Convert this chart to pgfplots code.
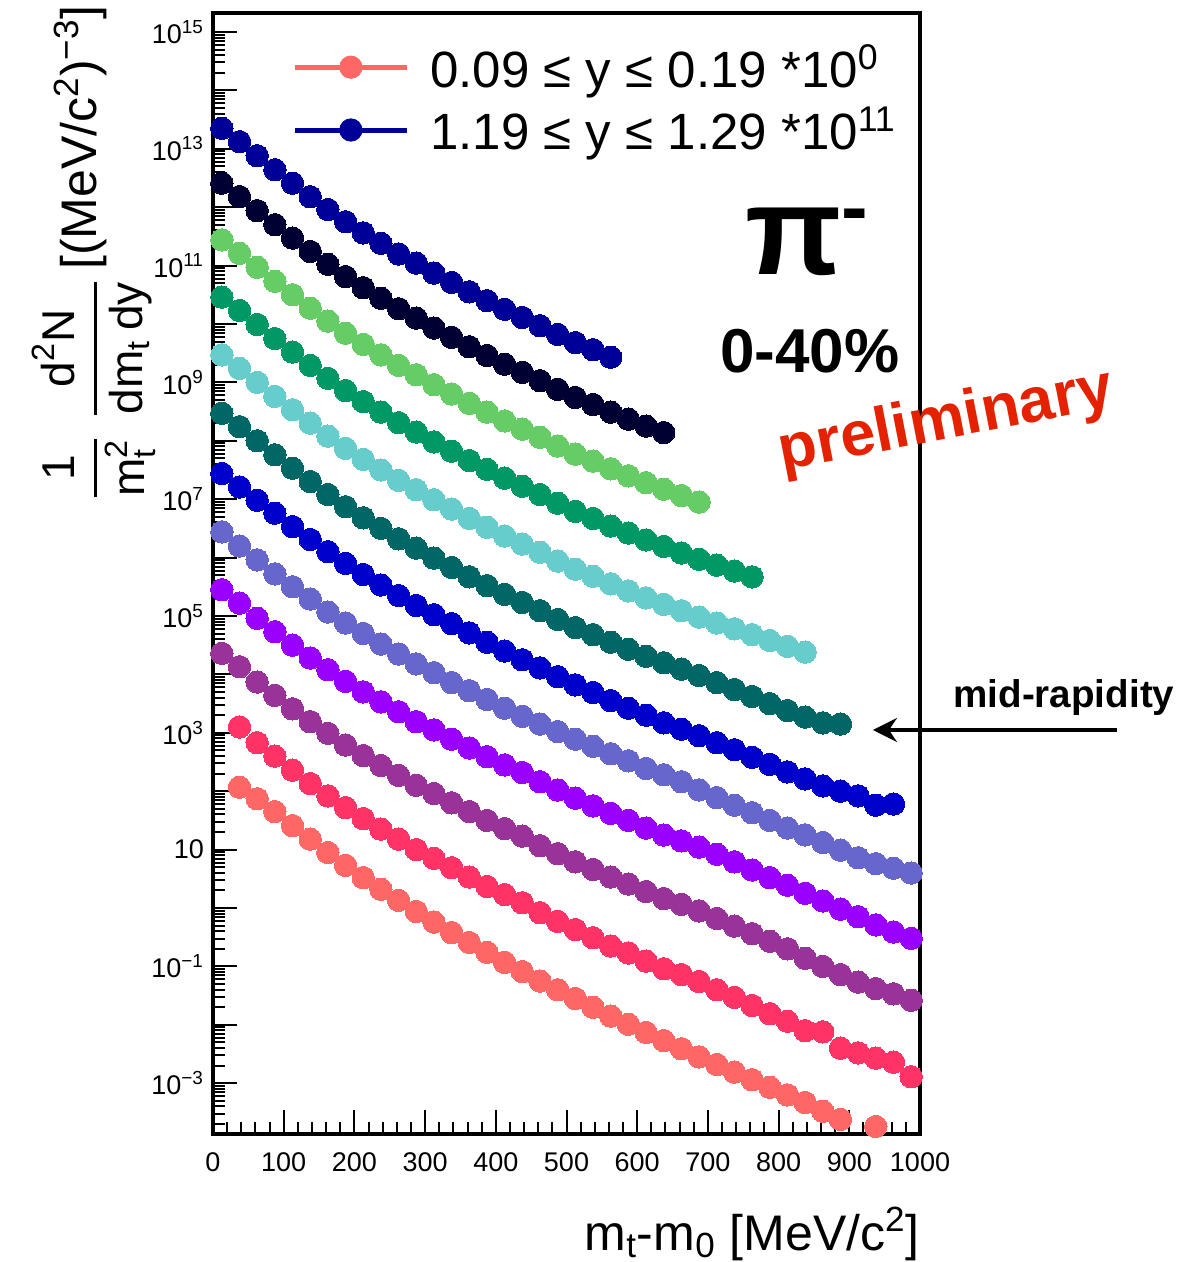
\documentclass[border=0pt]{standalone}
\usepackage{fontspec}
\setmainfont{Liberation Sans}
\usepackage{amsmath}
\usepackage{pgfplots}
\pgfplotsset{compat=1.18}
\usetikzlibrary{arrows.meta,calc}
\definecolor{c0}{HTML}{FF6666}
\definecolor{c1}{HTML}{FF3366}
\definecolor{c2}{HTML}{993399}
\definecolor{c3}{HTML}{9900FF}
\definecolor{c4}{HTML}{6666CC}
\definecolor{c5}{HTML}{0000CC}
\definecolor{c6}{HTML}{006666}
\definecolor{c7}{HTML}{66CCCC}
\definecolor{c8}{HTML}{009966}
\definecolor{c9}{HTML}{66CC66}
\definecolor{c10}{HTML}{000033}
\definecolor{c11}{HTML}{000099}
\definecolor{prelimred}{RGB}{228,34,0}
\begin{document}
\begin{tikzpicture}
\begin{axis}[
  scale only axis, width=353.5pt, height=560.5pt,
  xmin=0, xmax=1000, ymode=log, ymin=1.35e-4, ymax=2.11e15,
  axis line style={line width=2pt},
  tick style={line width=1pt, black},
  major tick length=12pt, minor tick length=6pt,
  tick pos=left,
  xtick={0,100,...,1000},
  xticklabels={0,100,200,300,400,500,600,700,800,900,1000},
  minor x tick num=4,
  ytick={1e-3,1e-2,1e-1,1,10,100,1e3,1e4,1e5,1e6,1e7,1e8,1e9,1e10,1e11,1e12,1e13,1e14,1e15},
  yticklabels={10\textsuperscript{−3},{},10\textsuperscript{−1},{},10,{},10\textsuperscript{3},{},10\textsuperscript{5},{},10\textsuperscript{7},{},10\textsuperscript{9},{},10\textsuperscript{11},{},10\textsuperscript{13},{},10\textsuperscript{15}},
  minor ytick={2e-4,3e-4,4e-4,5e-4,6e-4,7e-4,8e-4,9e-4,
    2e-3,3e-3,4e-3,5e-3,6e-3,7e-3,8e-3,9e-3,
    2e-2,3e-2,4e-2,5e-2,6e-2,7e-2,8e-2,9e-2,
    2e-1,3e-1,4e-1,5e-1,6e-1,7e-1,8e-1,9e-1,
    2,3,4,5,6,7,8,9,
    20,30,40,50,60,70,80,90,
    200,300,400,500,600,700,800,900,
    2e3,3e3,4e3,5e3,6e3,7e3,8e3,9e3,
    2e4,3e4,4e4,5e4,6e4,7e4,8e4,9e4,
    2e5,3e5,4e5,5e5,6e5,7e5,8e5,9e5,
    2e6,3e6,4e6,5e6,6e6,7e6,8e6,9e6,
    2e7,3e7,4e7,5e7,6e7,7e7,8e7,9e7,
    2e8,3e8,4e8,5e8,6e8,7e8,8e8,9e8,
    2e9,3e9,4e9,5e9,6e9,7e9,8e9,9e9,
    2e10,3e10,4e10,5e10,6e10,7e10,8e10,9e10,
    2e11,3e11,4e11,5e11,6e11,7e11,8e11,9e11,
    2e12,3e12,4e12,5e12,6e12,7e12,8e12,9e12,
    2e13,3e13,4e13,5e13,6e13,7e13,8e13,9e13,
    2e14,3e14,4e14,5e14,6e14,7e14,8e14,9e14,
    2e15},
  xticklabel style={font=\fontsize{13.5}{16}\selectfont, yshift=-6pt},
  yticklabel style={font=\fontsize{13.5}{16}\selectfont, xshift=-1pt},
  clip=false,
  legend style={draw=none, fill=none, at={(axis description cs:0.1117,0.9725)}, anchor=north west,
    font=\fontsize{25.5}{30}\selectfont, inner sep=0pt, row sep=8.5pt, column sep=10.5pt, nodes={inner sep=0pt}},
  legend cell align=left,
  pts/.style={only marks, mark=*, mark size=5.6pt, mark options={line width=0pt}},
]
\addplot[pts, color=c0, legend image code/.code={\draw[c0, line width=2.5pt] (0pt,0pt) -- (56pt,0pt); \fill[c0] (28pt,0pt) circle (5.6pt);}] coordinates {
(37.5,1.17e2)(62.5,7.41e1)(87.5,4.47e1)(112.5,2.57e1)(137.5,1.51e1)(162.5,8.91)(187.5,5.37)(212.5,3.31)(237.5,2.09)(262.5,1.35)(287.5,8.71e-1)(312.5,5.75e-1)(337.5,3.80e-1)(362.5,2.57e-1)(387.5,1.74e-1)(412.5,1.17e-1)(437.5,8.13e-2)(462.5,5.62e-2)(487.5,3.98e-2)(512.5,2.82e-2)(537.5,2.00e-2)(562.5,1.41e-2)(587.5,1.02e-2)(612.5,7.41e-3)(637.5,5.37e-3)(662.5,3.89e-3)(687.5,2.82e-3)(712.5,2.09e-3)(737.5,1.55e-3)(762.5,1.15e-3)(787.5,8.51e-4)(812.5,6.31e-4)(837.5,4.68e-4)(862.5,3.31e-4)(887.5,2.40e-4)(937.5,1.82e-4)};
\addlegendentry{0.09 ≤ y ≤ 0.19 *10\textsuperscript{0}}
\addplot[pts, color=c1, forget plot] coordinates {
(37.5,1.26e3)(62.5,6.76e2)(87.5,3.98e2)(112.5,2.29e2)(137.5,1.35e2)(162.5,8.32e1)(187.5,5.25e1)(212.5,3.39e1)(237.5,2.24e1)(262.5,1.51e1)(287.5,1.00e1)(312.5,7.08)(337.5,4.90)(362.5,3.39)(387.5,2.34)(412.5,1.70)(437.5,1.23)(462.5,8.32e-1)(487.5,5.89e-1)(512.5,4.27e-1)(537.5,3.09e-1)(562.5,2.24e-1)(587.5,1.70e-1)(612.5,1.23e-1)(637.5,9.12e-2)(662.5,7.24e-2)(687.5,5.50e-2)(712.5,3.98e-2)(737.5,2.95e-2)(762.5,2.14e-2)(787.5,1.55e-2)(812.5,1.15e-2)(837.5,7.94e-3)(862.5,7.59e-3)(887.5,3.98e-3)(912.5,3.31e-3)(937.5,2.69e-3)(962.5,2.29e-3)(987.5,1.29e-3)};
\addplot[pts, color=c2, forget plot] coordinates {
(12.5,2.29e4)(37.5,1.35e4)(62.5,7.41e3)(87.5,4.37e3)(112.5,2.57e3)(137.5,1.55e3)(162.5,9.77e2)(187.5,6.17e2)(212.5,4.07e2)(237.5,2.75e2)(262.5,1.86e2)(287.5,1.26e2)(312.5,9.12e1)(337.5,6.31e1)(362.5,4.47e1)(387.5,3.16e1)(412.5,2.29e1)(437.5,1.70e1)(462.5,1.17e1)(487.5,8.51)(512.5,6.17)(537.5,4.57)(562.5,3.39)(587.5,2.57)(612.5,1.91)(637.5,1.45)(662.5,1.15)(687.5,8.91e-1)(712.5,6.61e-1)(737.5,4.90e-1)(762.5,3.63e-1)(787.5,2.69e-1)(812.5,2.00e-1)(837.5,1.38e-1)(862.5,1.00e-1)(887.5,7.24e-2)(912.5,5.37e-2)(937.5,4.17e-2)(962.5,3.39e-2)(987.5,2.63e-2)};
\addplot[pts, color=c3, forget plot] coordinates {
(12.5,2.82e5)(37.5,1.66e5)(62.5,9.12e4)(87.5,5.37e4)(112.5,3.16e4)(137.5,1.91e4)(162.5,1.20e4)(187.5,7.59e3)(212.5,5.01e3)(237.5,3.39e3)(262.5,2.29e3)(287.5,1.55e3)(312.5,1.12e3)(337.5,7.76e2)(362.5,5.50e2)(387.5,3.89e2)(412.5,2.82e2)(437.5,2.09e2)(462.5,1.45e2)(487.5,1.05e2)(512.5,7.59e1)(537.5,5.62e1)(562.5,4.17e1)(587.5,3.16e1)(612.5,2.34e1)(637.5,1.78e1)(662.5,1.41e1)(687.5,1.10e1)(712.5,8.32)(737.5,6.17)(762.5,4.47)(787.5,3.31)(812.5,2.45)(837.5,1.78)(862.5,1.32)(887.5,9.55e-1)(912.5,7.08e-1)(937.5,5.13e-1)(962.5,3.89e-1)(987.5,3.02e-1)};
\addplot[pts, color=c4, forget plot] coordinates {
(12.5,2.75e6)(37.5,1.58e6)(62.5,9.12e5)(87.5,5.25e5)(112.5,3.16e5)(137.5,1.95e5)(162.5,1.17e5)(187.5,7.59e4)(212.5,5.01e4)(237.5,3.31e4)(262.5,2.24e4)(287.5,1.51e4)(312.5,1.07e4)(337.5,7.24e3)(362.5,5.25e3)(387.5,3.72e3)(412.5,2.63e3)(437.5,1.91e3)(462.5,1.41e3)(487.5,1.05e3)(512.5,7.76e2)(537.5,5.89e2)(562.5,4.37e2)(587.5,3.31e2)(612.5,2.45e2)(637.5,1.91e2)(662.5,1.45e2)(687.5,1.05e2)(712.5,7.76e1)(737.5,5.75e1)(762.5,4.27e1)(787.5,3.16e1)(812.5,2.34e1)(837.5,1.78e1)(862.5,1.32e1)(887.5,9.77)(912.5,7.24)(937.5,5.75)(962.5,4.79)(987.5,3.98)};
\addplot[pts, color=c5, forget plot] coordinates {
(12.5,2.75e7)(37.5,1.62e7)(62.5,9.55e6)(87.5,5.75e6)(112.5,3.39e6)(137.5,2.04e6)(162.5,1.26e6)(187.5,7.94e5)(212.5,5.13e5)(237.5,3.39e5)(262.5,2.24e5)(287.5,1.51e5)(312.5,1.05e5)(337.5,7.41e4)(362.5,5.13e4)(387.5,3.55e4)(412.5,2.51e4)(437.5,1.78e4)(462.5,1.29e4)(487.5,9.12e3)(512.5,6.61e3)(537.5,4.90e3)(562.5,3.55e3)(587.5,2.63e3)(612.5,2.00e3)(637.5,1.48e3)(662.5,1.15e3)(687.5,8.91e2)(712.5,6.76e2)(737.5,5.13e2)(762.5,3.80e2)(787.5,2.88e2)(812.5,2.14e2)(837.5,1.62e2)(862.5,1.23e2)(887.5,1.00e2)(912.5,8.32e1)(937.5,5.75e1)(962.5,6.03e1)};
\addplot[pts, color=c6, forget plot] coordinates {
(12.5,2.95e8)(37.5,1.74e8)(62.5,1.00e8)(87.5,5.75e7)(112.5,3.39e7)(137.5,2.00e7)(162.5,1.20e7)(187.5,7.41e6)(212.5,4.79e6)(237.5,3.16e6)(262.5,2.09e6)(287.5,1.45e6)(312.5,9.77e5)(337.5,6.76e5)(362.5,4.68e5)(387.5,3.31e5)(412.5,2.34e5)(437.5,1.70e5)(462.5,1.23e5)(487.5,8.71e4)(512.5,6.31e4)(537.5,4.79e4)(562.5,3.55e4)(587.5,2.69e4)(612.5,2.04e4)(637.5,1.58e4)(662.5,1.23e4)(687.5,9.55e3)(712.5,7.24e3)(737.5,5.50e3)(762.5,4.17e3)(787.5,3.16e3)(812.5,2.40e3)(837.5,1.86e3)(862.5,1.48e3)(887.5,1.41e3)};
\addplot[pts, color=c7, forget plot] coordinates {
(12.5,2.95e9)(37.5,1.74e9)(62.5,1.00e9)(87.5,5.75e8)(112.5,3.39e8)(137.5,2.00e8)(162.5,1.20e8)(187.5,7.41e7)(212.5,4.79e7)(237.5,3.16e7)(262.5,2.09e7)(287.5,1.45e7)(312.5,9.77e6)(337.5,6.76e6)(362.5,4.68e6)(387.5,3.31e6)(412.5,2.34e6)(437.5,1.70e6)(462.5,1.23e6)(487.5,8.71e5)(512.5,6.31e5)(537.5,4.79e5)(562.5,3.55e5)(587.5,2.69e5)(612.5,2.04e5)(637.5,1.58e5)(662.5,1.23e5)(687.5,9.55e4)(712.5,7.59e4)(737.5,6.03e4)(762.5,4.79e4)(787.5,3.80e4)(812.5,3.02e4)(837.5,2.40e4)};
\addplot[pts, color=c8, forget plot] coordinates {
(12.5,2.88e10)(37.5,1.70e10)(62.5,9.77e9)(87.5,5.62e9)(112.5,3.31e9)(137.5,1.95e9)(162.5,1.17e9)(187.5,7.24e8)(212.5,4.68e8)(237.5,3.09e8)(262.5,2.04e8)(287.5,1.41e8)(312.5,9.55e7)(337.5,6.61e7)(362.5,4.57e7)(387.5,3.24e7)(412.5,2.29e7)(437.5,1.66e7)(462.5,1.20e7)(487.5,8.51e6)(512.5,6.17e6)(537.5,4.68e6)(562.5,3.47e6)(587.5,2.63e6)(612.5,2.00e6)(637.5,1.55e6)(662.5,1.20e6)(687.5,9.33e5)(712.5,7.41e5)(737.5,5.89e5)(762.5,4.68e5)};
\addplot[pts, color=c9, forget plot] coordinates {
(12.5,2.75e11)(37.5,1.62e11)(62.5,9.33e10)(87.5,5.37e10)(112.5,3.16e10)(137.5,1.86e10)(162.5,1.12e10)(187.5,6.92e9)(212.5,4.47e9)(237.5,2.95e9)(262.5,1.95e9)(287.5,1.35e9)(312.5,9.12e8)(337.5,6.31e8)(362.5,4.37e8)(387.5,3.09e8)(412.5,2.19e8)(437.5,1.58e8)(462.5,1.15e8)(487.5,8.13e7)(512.5,5.89e7)(537.5,4.47e7)(562.5,3.31e7)(587.5,2.51e7)(612.5,1.91e7)(637.5,1.48e7)(662.5,1.15e7)(687.5,8.91e6)};
\addplot[pts, color=c10, forget plot] coordinates {
(12.5,2.57e12)(37.5,1.51e12)(62.5,8.71e11)(87.5,5.01e11)(112.5,2.95e11)(137.5,1.74e11)(162.5,1.05e11)(187.5,6.46e10)(212.5,4.17e10)(237.5,2.75e10)(262.5,1.82e10)(287.5,1.26e10)(312.5,8.51e9)(337.5,5.89e9)(362.5,4.07e9)(387.5,2.88e9)(412.5,2.04e9)(437.5,1.48e9)(462.5,1.07e9)(487.5,7.59e8)(512.5,5.50e8)(537.5,4.17e8)(562.5,3.09e8)(587.5,2.34e8)(612.5,1.78e8)(637.5,1.38e8)};
\addplot[pts, color=c11, legend image code/.code={\draw[c11, line width=2.5pt] (0pt,0pt) -- (56pt,0pt); \fill[c11] (28pt,0pt) circle (5.6pt);}] coordinates {
(12.5,2.24e13)(37.5,1.32e13)(62.5,7.59e12)(87.5,4.37e12)(112.5,2.57e12)(137.5,1.51e12)(162.5,9.12e11)(187.5,5.62e11)(212.5,3.63e11)(237.5,2.40e11)(262.5,1.58e11)(287.5,1.10e11)(312.5,7.41e10)(337.5,5.13e10)(362.5,3.55e10)(387.5,2.51e10)(412.5,1.78e10)(437.5,1.29e10)(462.5,9.33e9)(487.5,6.61e9)(512.5,4.79e9)(537.5,3.63e9)(562.5,2.69e9)};
\addlegendentry{1.19 ≤ y ≤ 1.29 *10\textsuperscript{11}}

\node[anchor=base west, inner sep=0pt, font=\fontsize{63}{63}\selectfont\bfseries] at (axis description cs:0.7525,0.7663) {π\raisebox{20pt}{\fontsize{40}{40}\selectfont -}};
\node[anchor=base west, inner sep=0pt, font=\fontsize{31}{31}\selectfont\bfseries] at (axis description cs:0.717,0.6789) {0-40\%};
\node[anchor=base west, inner sep=0pt, rotate=11, text=prelimred, font=\fontsize{31.5}{31.5}\selectfont\bfseries] at (axis description cs:0.8048,0.5915) {preliminary};
\node[anchor=base west, inner sep=0pt, font=\fontsize{19.3}{21}\selectfont\bfseries] at (axis description cs:1.0467,0.3809) {mid-rapidity};
\draw[line width=1.6pt, -{Stealth[length=12pt,width=12pt,inset=4pt]}] (axis description cs:1.2787,0.3604) -- (axis description cs:0.9335,0.3604);
\node[anchor=base east, inner sep=0pt, font=\fontsize{25}{28}\selectfont] at (axis description cs:1,-0.1035) {m\textsubscript{t}-m\textsubscript{0} [MeV/c\textsuperscript{2}]};
\node[rotate=90, anchor=east, inner sep=0pt, font=\fontsize{23}{27}\selectfont] at (axis description cs:-0.1683,1.007) {$\genfrac{}{}{1.3pt}{0}{\text{1}}{\text{m}_{\text{t}}^{\text{2}}}\hspace{10pt}\genfrac{}{}{1.3pt}{0}{\text{d}^{\text{2}}\text{N}}{\text{dm}_{\text{t}}\hspace{5pt}\text{dy}}$\hspace{5pt}\raisebox{5.75pt}{\fontsize{25}{29}\selectfont[(MeV/c\textsuperscript{2})\textsuperscript{−3}]}};
\end{axis}
\pgfresetboundingbox
\path[use as bounding box] ($(current axis.south west)+(-106.5pt,-64pt)$) rectangle ($(current axis.north east)+(133.5pt,6.5pt)$);
\end{tikzpicture}
\end{document}
